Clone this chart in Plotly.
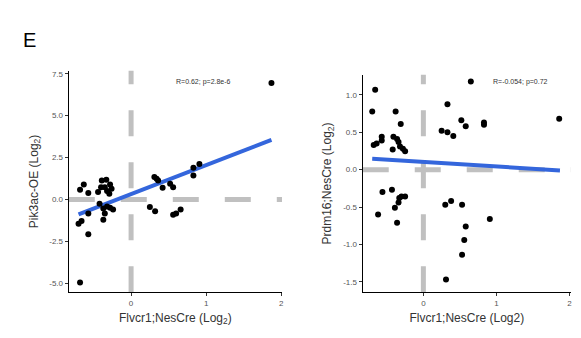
import plotly.graph_objects as go

# ---------------- data ----------------
left_x = [1.87, -0.68, -0.57, -0.70, -0.66, -0.57, -0.68, -0.63, -0.57,
          -0.39, -0.33, -0.28, -0.40, -0.35, -0.26, -0.44, -0.32, -0.29,
          -0.42, -0.32, -0.28, -0.37, -0.24, -0.35, -0.37,
          0.31, 0.34, 0.36, 0.42, 0.52, 0.56, 0.83, 0.91, 0.83,
          0.25, 0.32, 0.56, 0.60, 0.66]
left_y = [6.95, -4.96, -2.08, -1.45, -1.29, -0.85, 0.58, 0.89, 0.38,
          1.13, 1.17, 0.89, 0.73, 0.73, 0.63, 0.44, 0.50, 0.34,
          -0.26, -0.42, -0.50, -0.55, -0.61, -0.85, -1.21,
          1.33, 1.23, 1.13, 0.70, 0.93, 0.73, 1.89, 2.12, 1.43,
          -0.46, -0.71, -0.91, -0.85, -0.60]
left_fit_x = [-0.70, 1.87]
left_fit_y = [-0.89, 3.55]
left_label = "R=0.62; p=2.8e-6"

right_x = [0.65, 1.86, -0.66, -0.70, -0.38, -0.31, -0.57, -0.57, -0.64, -0.68,
           -0.41, -0.36, -0.34, -0.42, -0.32, -0.28, -0.25,
           0.33, 0.25, 0.33, 0.41, 0.52, 0.58, 0.83, 0.83,
           -0.56, -0.43, -0.33, -0.30, -0.25, -0.34, -0.39, -0.62, -0.36,
           0.30, 0.38, 0.53, 0.91, 0.58, 0.56, 0.53, 0.31]
right_y = [1.18, 0.68, 1.07, 0.78, 0.78, 0.61, 0.44, 0.39, 0.35, 0.33,
           0.44, 0.41, 0.37, 0.27, 0.31, 0.28, 0.245,
           0.875, 0.52, 0.50, 0.45, 0.66, 0.58, 0.63, 0.60,
           -0.30, -0.27, -0.38, -0.36, -0.36, -0.44, -0.51, -0.60, -0.71,
           -0.47, -0.42, -0.47, -0.66, -0.76, -0.94, -1.14, -1.47]
right_fit_x = [-0.70, 1.87]
right_fit_y = [0.147, -0.01]
right_label = "R=-0.054; p=0.72"

x_ticks = [0, 1, 2]
left_y_ticks = [-5.0, -2.5, 0.0, 2.5, 5.0, 7.5]
right_y_ticks = [-1.5, -1.0, -0.5, 0.0, 0.5, 1.0]

# ---------------- figure ----------------
FONT = "Liberation Sans, Arial, sans-serif"
BLUE = "#3466dc"
GREY = "#c0c0c0"

fig = go.Figure()

fig.add_trace(go.Scatter(x=left_fit_x, y=left_fit_y, mode="lines",
                         line=dict(color=BLUE, width=4), xaxis="x", yaxis="y",
                         showlegend=False, hoverinfo="skip"))
fig.add_trace(go.Scatter(x=left_x, y=left_y, mode="markers",
                         marker=dict(color="black", size=6), xaxis="x", yaxis="y",
                         showlegend=False))
fig.add_trace(go.Scatter(x=right_fit_x, y=right_fit_y, mode="lines",
                         line=dict(color=BLUE, width=4), xaxis="x2", yaxis="y2",
                         showlegend=False, hoverinfo="skip"))
fig.add_trace(go.Scatter(x=right_x, y=right_y, mode="markers",
                         marker=dict(color="black", size=6), xaxis="x2", yaxis="y2",
                         showlegend=False))

# dashed reference lines
for xr, yr in (("x", "y"), ("x2", "y2")):
    fig.add_shape(type="line", xref=xr, yref=yr + " domain", x0=0, x1=0, y0=0, y1=1,
                  line=dict(color=GREY, width=5, dash="26px,26px"), layer="below")
    fig.add_shape(type="line", xref=xr + " domain", yref=yr, x0=0, x1=1, y0=0, y1=0,
                  line=dict(color=GREY, width=5, dash="26px,26px"), layer="below")

axis_common = dict(showline=True, linecolor="black", linewidth=1.3, ticks="outside",
                   ticklen=3, tickwidth=1, tickcolor="#333", showgrid=False,
                   zeroline=False, tickfont=dict(family=FONT, size=8, color="#555"),
                   title_font=dict(family=FONT, size=12, color="#333"))

fig.update_layout(
    width=581, height=338, margin=dict(l=0, r=0, t=0, b=0),
    paper_bgcolor="white", plot_bgcolor="white", showlegend=False,
    xaxis=dict(domain=[0.1188, 0.487], range=[-0.83, 2.01], tickvals=x_ticks,
               anchor="y", title=dict(text="Flvcr1;NesCre (Log<sub>2</sub>)", standoff=6),
               **axis_common),
    yaxis=dict(domain=[0.136, 0.793], range=[-5.54, 7.68], tickvals=left_y_ticks,
               ticktext=[f"{v:.1f}" for v in left_y_ticks], anchor="x",
               title=dict(text="Pik3ac-OE (Log<sub>2</sub>)", standoff=8), **axis_common),
    xaxis2=dict(domain=[0.6265, 0.986], range=[-0.83, 2.02], tickvals=x_ticks,
                anchor="y2", title=dict(text="Flvcr1;NesCre (Log2)", standoff=6),
                **axis_common),
    yaxis2=dict(domain=[0.136, 0.781], range=[-1.64, 1.27], tickvals=right_y_ticks,
                ticktext=[f"{v:.1f}" for v in right_y_ticks], anchor="x2",
                title=dict(text="Prdm16;NesCre (Log<sub>2</sub>)", standoff=8), **axis_common),
)

fig.add_annotation(x=0.97, y=7.02, xref="x", yref="y", text=left_label, showarrow=False,
                   font=dict(family=FONT, size=7, color="#333"))
fig.add_annotation(x=1.33, y=1.18, xref="x2", yref="y2", text=right_label, showarrow=False,
                   font=dict(family=FONT, size=7, color="#333"))
fig.add_annotation(x=21 / 581, y=1 - 26 / 338, xref="paper", yref="paper", text="E",
                   showarrow=False, font=dict(family=FONT, size=20, color="black"))

fig.write_html("out.html")
